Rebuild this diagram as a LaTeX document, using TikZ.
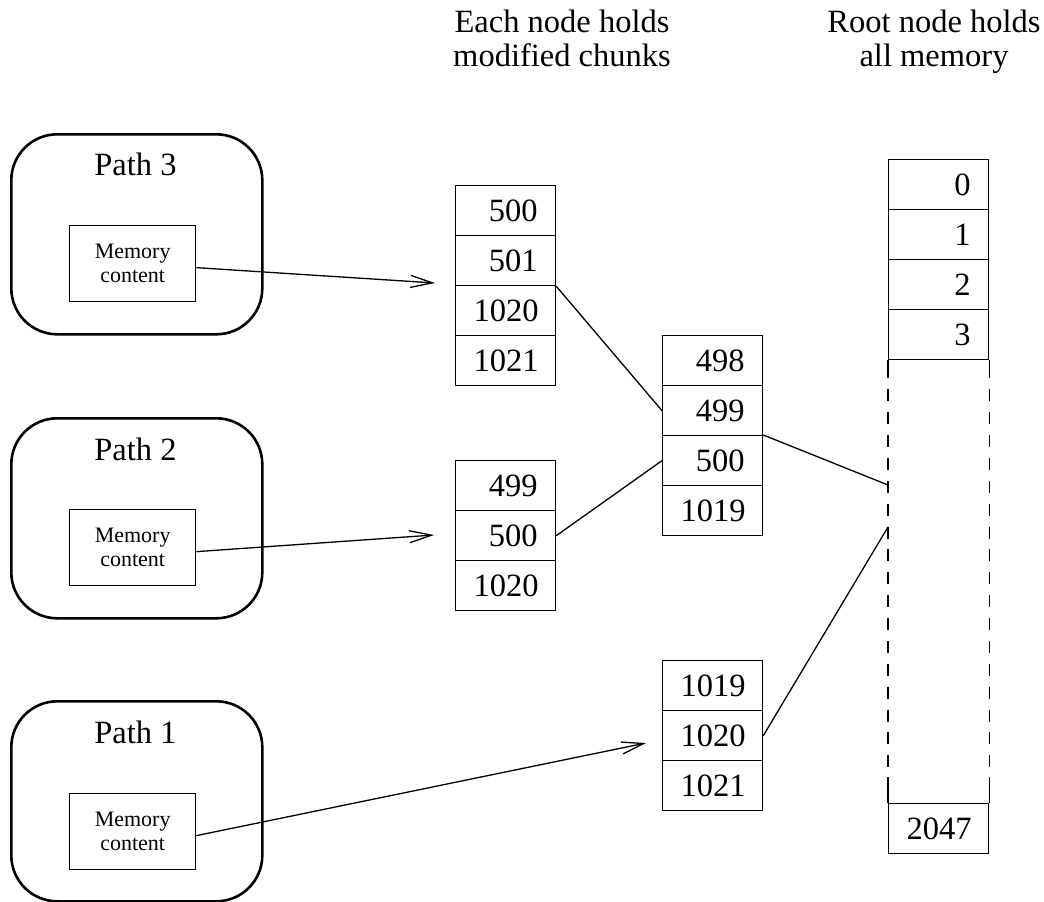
\documentclass[tikz,border=0pt]{standalone}
\usepackage{fontspec}
\setmainfont{Liberation Serif}
\usetikzlibrary{arrows.meta}

\begin{document}
\begin{tikzpicture}[x=1pt,y=-1pt,
  big/.style={font=\fontsize{32.5}{34}\selectfont, inner sep=0pt},
  cell/.style={draw, line width=1.3pt, minimum width=100pt, minimum height=50pt,
    inner sep=0pt, text width=64pt, align=right,
    font=\fontsize{32.5}{34}\selectfont, anchor=north west},
  pathbox/.style={draw, line width=2.6pt, rounded corners=46pt,
    minimum width=251pt, minimum height=200pt, anchor=north west, inner sep=0pt},
  membox/.style={draw, line width=1.3pt, minimum width=126pt, minimum height=76pt,
    inner sep=0pt, align=center, font=\fontsize{22}{24}\selectfont, anchor=north west},
  link/.style={line width=1.3pt},
  ptr/.style={line width=1.3pt, -{Straight Barb[length=22pt,width=12pt,line width=1.3pt]}},
]
\useasboundingbox (0,0) rectangle (1044,902);

% column headings
\node[big, anchor=base] (h1a) at (562,32) {Each node holds};
\node[big, anchor=base] (h1b) at (562,66) {modified chunks};
\node[big, anchor=base] (h2a) at (934,32) {Root node holds};
\node[big, anchor=base] (h2b) at (934,66) {all memory};

% execution paths
\node[pathbox] (p3) at (10,133) {};
\node[big, anchor=base] (p3t) at (135.5,175) {Path 3};
\node[membox] (m3) at (69,225) {Memory\\content};

\node[pathbox] (p2) at (10,417) {};
\node[big, anchor=base] (p2t) at (135.5,460) {Path 2};
\node[membox] (m2) at (69,509) {Memory\\content};

\node[pathbox] (p1) at (10,700) {};
\node[big, anchor=base] (p1t) at (135.5,743) {Path 1};
\node[membox] (m1) at (69,793) {Memory\\content};

% chunk tables of the child nodes
\node[cell] (a1) at (455,185) {500};
\node[cell] (a2) at (455,235) {501};
\node[cell] (a3) at (455,285) {1020};
\node[cell] (a4) at (455,335) {1021};

\node[cell] (b1) at (455,460) {499};
\node[cell] (b2) at (455,510) {500};
\node[cell] (b3) at (455,560) {1020};

\node[cell] (c1) at (662,335) {498};
\node[cell] (c2) at (662,385) {499};
\node[cell] (c3) at (662,435) {500};
\node[cell] (c4) at (662,485) {1019};

\node[cell] (d1) at (662,660) {1019};
\node[cell] (d2) at (662,710) {1020};
\node[cell] (d3) at (662,760) {1021};

% root node: full memory
\node[cell] (q0) at (888,159) {0};
\node[cell] (q1) at (888,209) {1};
\node[cell] (q2) at (888,259) {2};
\node[cell] (q3) at (888,309) {3};
\node[cell] (q4) at (888,803) {2047};

\foreach \s in {west,east}{
  \draw[link] (q3.south \s) -- ++(0,18);
  \draw[link, dash pattern=on 12pt off 10.875pt] (q3.south \s) ++(0,29) -- ++(0,378);
  \draw[link] (q4.north \s) -- ++(0,-26);
}

% pointers from the paths
\coordinate (t3) at (435,283);
\coordinate (t2) at (434,535);
\coordinate (t1) at (646,743);
\draw[ptr] ([yshift=-4pt]m3.east) -- (t3);
\draw[ptr] ([yshift=-4pt]m2.east) -- (t2);
\draw[ptr] ([yshift=-4pt]m1.east) -- (t1);

% parent links
\coordinate (r1) at (888,485);
\coordinate (r2) at (888,527);
\draw[link] (a2.south east) -- (c2.west);
\draw[link] (b2.east) -- (c3.west);
\draw[link] (c3.north east) -- (r1);
\draw[link] (d2.east) -- (r2);
\end{tikzpicture}
\end{document}
